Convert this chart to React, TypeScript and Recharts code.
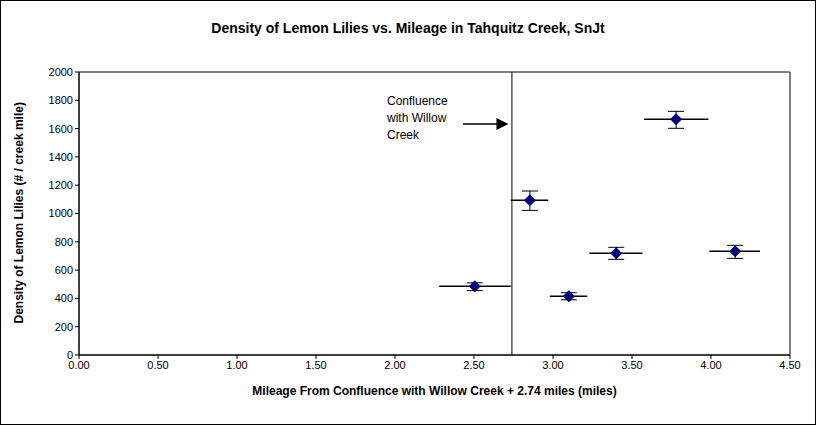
import React from "react";
import {
  ScatterChart,
  Scatter,
  XAxis,
  YAxis,
  ErrorBar,
  ReferenceLine,
  ReferenceArea,
  ReferenceDot,
} from "recharts";

const mileage = [2.505, 2.854, 3.1, 3.4, 3.779, 4.153];
const density = [485, 1093, 415, 719, 1666, 733];
const mileLow = [2.28, 2.733, 2.98, 3.23, 3.576, 3.99];
const mileHigh = [2.733, 2.97, 3.217, 3.566, 3.984, 4.31];
const densLow = [455, 1022, 390, 676, 1602, 683];
const densHigh = [510, 1159, 440, 761, 1722, 775];
const xTicks = [0, 0.5, 1, 1.5, 2, 2.5, 3, 3.5, 4, 4.5];
const yTicks = [0, 200, 400, 600, 800, 1000, 1200, 1400, 1600, 1800, 2000];

const data = mileage.map((m, i) => ({
  x: m,
  y: density[i],
  ex: [m - mileLow[i], mileHigh[i] - m],
  ey: [density[i] - densLow[i], densHigh[i] - density[i]],
}));

const font = "Arial, 'Liberation Sans', sans-serif";

const Diamond = (p: any) => (
  <path
    d={`M${p.cx},${p.cy - 6} L${p.cx + 6},${p.cy} L${p.cx},${p.cy + 6} L${p.cx - 6},${p.cy} Z`}
    fill="#000080"
  />
);

const ArrowHead = (p: any) => (
  <path d={`M${p.cx + 6},${p.cy} L${p.cx - 6},${p.cy - 6} L${p.cx - 6},${p.cy + 6} Z`} fill="#000" />
);

export default function App() {
  return (
    <div
      style={{
        position: "absolute",
        left: 0,
        top: 0,
        width: 814,
        height: 423,
        border: "1px solid #000",
        background: "#fff",
        fontFamily: font,
      }}
    >
      <div
        style={{
          position: "absolute",
          top: 19,
          width: "100%",
          textAlign: "center",
          fontWeight: "bold",
          fontSize: 14,
        }}
      >
        Density of Lemon Lilies vs. Mileage in Tahquitz Creek, SnJt
      </div>
      <div
        style={{
          position: "absolute",
          left: 386,
          top: 92,
          fontSize: 12,
          lineHeight: "17px",
        }}
      >
        Confluence
        <br />
        with Willow
        <br />
        Creek
      </div>
      <ScatterChart
        width={814}
        height={423}
        margin={{ top: 71, right: 25, bottom: 39, left: 18 }}
        style={{ fontFamily: font }}
      >
        <XAxis
          type="number"
          dataKey="x"
          domain={[0, 4.5]}
          ticks={xTicks}
          tickFormatter={(v: number) => v.toFixed(2)}
          stroke="#000"
          tick={{ fill: "#000", fontSize: 11 }}
          tickSize={4}
          label={{
            value: "Mileage From Confluence with Willow Creek + 2.74 miles (miles)",
            position: "bottom",
            offset: 1,
            style: { fontWeight: "bold", fontSize: 12, fill: "#000" },
          }}
        />
        <YAxis
          type="number"
          dataKey="y"
          domain={[0, 2000]}
          ticks={yTicks}
          stroke="#000"
          width={60}
          tick={{ fill: "#000", fontSize: 11 }}
          tickSize={4}
          label={{
            value: "Density of Lemon Lilies (# / creek mile)",
            angle: -90,
            position: "insideLeft",
            offset: 0,
            dy: 110,
            style: { fontWeight: "bold", fontSize: 12, fill: "#000" },
          }}
        />
        <ReferenceArea x1={0} x2={4.5} y1={0} y2={2000} fill="none" stroke="#000" />
        <ReferenceLine x={2.74} stroke="#000" />
        <ReferenceLine
          segment={[
            { x: 2.43, y: 1632 },
            { x: 2.66, y: 1632 },
          ]}
          stroke="#000"
          strokeWidth={1.5}
        />
        <ReferenceDot x={2.68} y={1632} shape={<ArrowHead />} />
        <Scatter data={data} shape={<Diamond />} isAnimationActive={false}>
          <ErrorBar dataKey="ex" direction="x" stroke="#000" width={0} strokeWidth={1.5} />
          <ErrorBar dataKey="ey" direction="y" stroke="#000" width={8} strokeWidth={1} />
        </Scatter>
      </ScatterChart>
    </div>
  );
}
